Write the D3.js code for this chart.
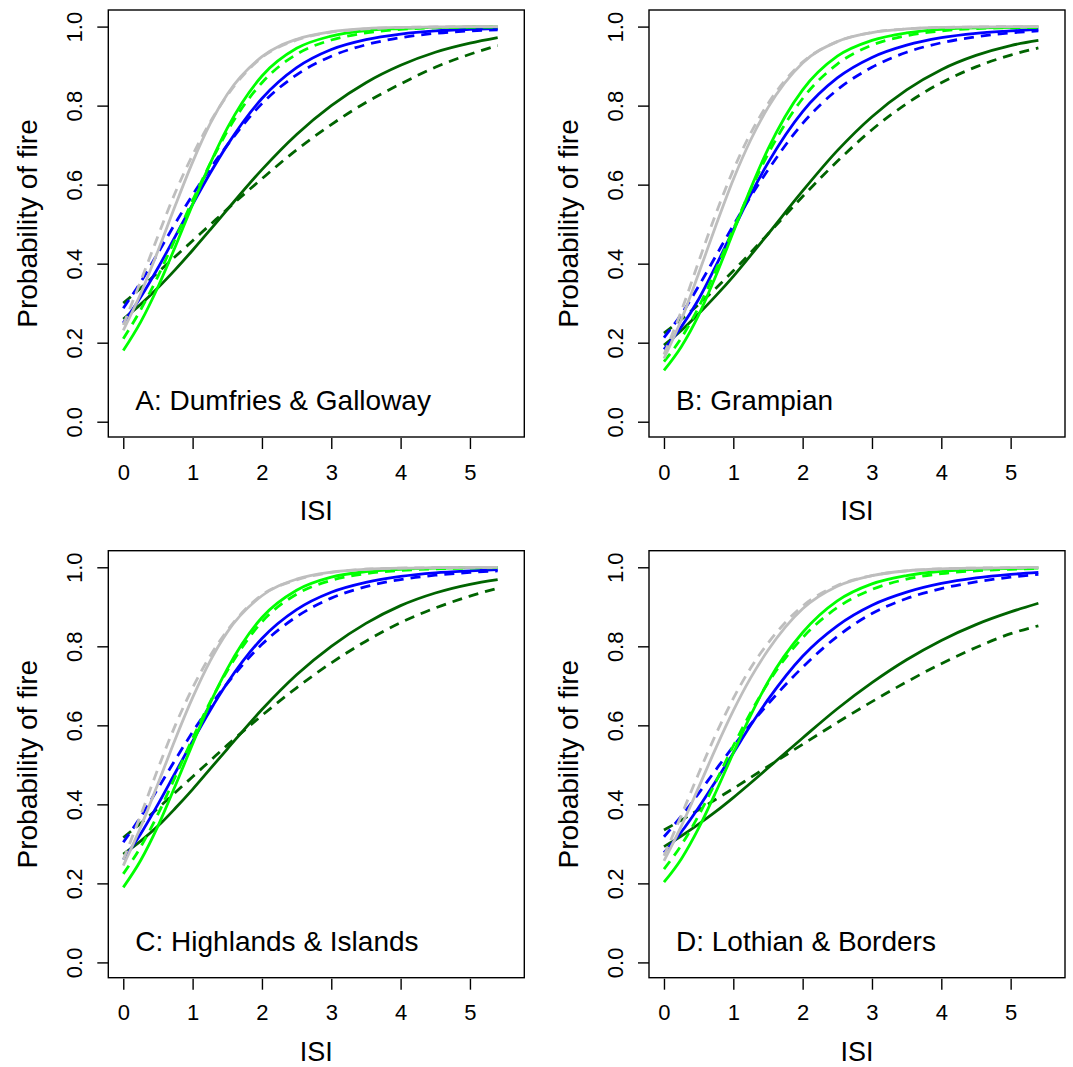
<!DOCTYPE html>
<html>
<head>
<meta charset="utf-8">
<script src="https://cdn.jsdelivr.net/npm/d3@7"></script>
<style>
  body { margin: 0; background: #fff; }
  svg text { font-family: 'Liberation Sans', Arial, sans-serif; fill: #000; }
</style>
</head>
<body>
<svg id="chart" width="1073" height="1067"></svg>
<script>
// ISI sample points along each fitted curve
const isi = [0, 0.25, 0.5, 0.75, 1, 1.25, 1.5, 2, 2.5, 3, 3.5, 4, 4.5, 5, 5.4];

const xTicks = [0, 1, 2, 3, 4, 5];
const yTicks = [0, 0.2, 0.4, 0.6, 0.8, 1.0];
const panelTitles = ['A: Dumfries & Galloway', 'B: Grampian', 'C: Highlands & Islands', 'D: Lothian & Borders'];

// A: Dumfries & Galloway
const darkA = [0.26, 0.297, 0.339, 0.385, 0.434, 0.485, 0.537, 0.638, 0.727, 0.8, 0.858, 0.902, 0.935, 0.958, 0.972];
const darkDashA = [0.30, 0.338, 0.378, 0.418, 0.458, 0.498, 0.538, 0.615, 0.688, 0.752, 0.808, 0.855, 0.897, 0.93, 0.952];
const blueA = [0.25, 0.315, 0.389, 0.469, 0.55, 0.628, 0.70, 0.818, 0.896, 0.942, 0.967, 0.981, 0.989, 0.993, 0.995];
const blueDashA = [0.287, 0.353, 0.427, 0.502, 0.574, 0.64, 0.70, 0.805, 0.878, 0.925, 0.954, 0.972, 0.983, 0.989, 0.992];
const greenA = [0.18, 0.252, 0.341, 0.443, 0.55, 0.652, 0.743, 0.875, 0.945, 0.976, 0.99, 0.995, 0.998, 0.999, 0.9995];
const greenDashA = [0.21, 0.283, 0.368, 0.463, 0.56, 0.652, 0.735, 0.858, 0.93, 0.966, 0.984, 0.993, 0.9967, 0.9985, 0.999];
const greyA = [0.231, 0.324, 0.432, 0.547, 0.657, 0.753, 0.829, 0.924, 0.968, 0.987, 0.995, 0.998, 0.999, 1.0, 1.0];
const greyDashA = [0.245, 0.355, 0.47, 0.58, 0.675, 0.757, 0.826, 0.922, 0.966, 0.986, 0.994, 0.998, 0.999, 1.0, 1.0];

// B: Grampian
const darkB = [0.194, 0.231, 0.273, 0.319, 0.368, 0.421, 0.475, 0.584, 0.686, 0.772, 0.84, 0.891, 0.927, 0.952, 0.965];
const darkDashB = [0.224, 0.259, 0.297, 0.338, 0.382, 0.428, 0.475, 0.57, 0.659, 0.739, 0.805, 0.858, 0.898, 0.928, 0.946];
const blueB = [0.183, 0.24, 0.31, 0.395, 0.485, 0.575, 0.655, 0.785, 0.87, 0.922, 0.953, 0.972, 0.983, 0.989, 0.993];
const blueDashB = [0.213, 0.272, 0.343, 0.42, 0.497, 0.57, 0.637, 0.755, 0.84, 0.897, 0.935, 0.959, 0.974, 0.984, 0.989];
const greenB = [0.13, 0.19, 0.27, 0.37, 0.48, 0.59, 0.69, 0.84, 0.925, 0.965, 0.984, 0.993, 0.997, 0.998, 0.999];
const greenDashB = [0.152, 0.212, 0.29, 0.385, 0.487, 0.587, 0.677, 0.818, 0.905, 0.953, 0.977, 0.989, 0.995, 0.997, 0.998];
const greyB = [0.16, 0.258, 0.375, 0.497, 0.613, 0.713, 0.795, 0.908, 0.962, 0.985, 0.994, 0.998, 0.999, 1.0, 1.0];
const greyDashB = [0.17, 0.28, 0.405, 0.527, 0.637, 0.73, 0.805, 0.91, 0.962, 0.985, 0.994, 0.998, 0.999, 1.0, 1.0];

// C: Highlands & Islands
const darkC = [0.274, 0.307, 0.345, 0.39, 0.438, 0.489, 0.54, 0.64, 0.728, 0.8, 0.858, 0.903, 0.935, 0.957, 0.969];
const darkDashC = [0.316, 0.352, 0.39, 0.43, 0.47, 0.51, 0.55, 0.625, 0.695, 0.758, 0.813, 0.86, 0.897, 0.927, 0.947];
const blueC = [0.26, 0.325, 0.40, 0.48, 0.56, 0.637, 0.707, 0.82, 0.893, 0.937, 0.962, 0.977, 0.986, 0.991, 0.994];
const blueDashC = [0.304, 0.368, 0.44, 0.513, 0.583, 0.648, 0.706, 0.805, 0.875, 0.922, 0.951, 0.969, 0.98, 0.987, 0.991];
const greenC = [0.19, 0.258, 0.345, 0.447, 0.553, 0.655, 0.743, 0.873, 0.942, 0.975, 0.989, 0.995, 0.998, 0.999, 0.9995];
const greenDashC = [0.224, 0.292, 0.375, 0.47, 0.567, 0.658, 0.738, 0.862, 0.932, 0.967, 0.984, 0.992, 0.996, 0.998, 0.999];
const greyC = [0.245, 0.342, 0.452, 0.565, 0.67, 0.762, 0.836, 0.928, 0.97, 0.988, 0.995, 0.998, 0.999, 1.0, 1.0];
const greyDashC = [0.26, 0.372, 0.49, 0.60, 0.695, 0.775, 0.84, 0.93, 0.968, 0.987, 0.995, 0.998, 0.999, 1.0, 1.0];

// D: Lothian & Borders
const darkD = [0.293, 0.32, 0.35, 0.382, 0.417, 0.454, 0.492, 0.568, 0.642, 0.708, 0.766, 0.815, 0.855, 0.887, 0.909];
const darkDashD = [0.335, 0.36, 0.386, 0.413, 0.44, 0.468, 0.496, 0.552, 0.607, 0.66, 0.71, 0.756, 0.797, 0.832, 0.852];
const blueD = [0.278, 0.33, 0.392, 0.46, 0.53, 0.60, 0.665, 0.775, 0.852, 0.904, 0.937, 0.959, 0.973, 0.982, 0.987];
const blueDashD = [0.318, 0.37, 0.428, 0.488, 0.547, 0.603, 0.654, 0.747, 0.825, 0.883, 0.921, 0.946, 0.963, 0.975, 0.982];
const greenD = [0.203, 0.262, 0.34, 0.432, 0.53, 0.625, 0.71, 0.835, 0.915, 0.958, 0.979, 0.99, 0.995, 0.997, 0.998];
const greenDashD = [0.236, 0.297, 0.372, 0.458, 0.548, 0.632, 0.707, 0.822, 0.898, 0.944, 0.97, 0.984, 0.991, 0.995, 0.997];
const greyD = [0.257, 0.345, 0.443, 0.543, 0.637, 0.72, 0.79, 0.895, 0.952, 0.979, 0.991, 0.996, 0.998, 0.999, 1.0];
const greyDashD = [0.27, 0.372, 0.478, 0.578, 0.668, 0.745, 0.808, 0.902, 0.954, 0.979, 0.991, 0.996, 0.998, 0.999, 1.0];

const colors = { dark: '#006400', blue: '#0000ff', green: '#00ff00', grey: '#bebebe' };

const panels = [
  [darkA, darkDashA, blueA, blueDashA, greenA, greenDashA, greyA, greyDashA],
  [darkB, darkDashB, blueB, blueDashB, greenB, greenDashB, greyB, greyDashB],
  [darkC, darkDashC, blueC, blueDashC, greenC, greenDashC, greyC, greyDashC],
  [darkD, darkDashD, blueD, blueDashD, greenD, greenDashD, greyD, greyDashD],
];
const seriesStyle = [
  ['dark', false], ['dark', true], ['blue', false], ['blue', true],
  ['green', false], ['green', true], ['grey', false], ['grey', true],
];

const plotW = 416;
const plotH = 427;
const step = 540.7;

const svg = d3.select('#chart');

panels.forEach((series, p) => {
  const left = 108.3 + (p % 2) * step;
  const top = 10 + Math.floor(p / 2) * step;

  const g = svg.append('g').attr('transform', `translate(${left},${top})`);

  const x = d3.scaleLinear().domain([-0.216, 5.784]).range([0, plotW]);
  const y = d3.scaleLinear().domain([-0.0387, 1.042]).range([plotH, 0]);

  const line = d3.line()
    .x((d, i) => x(isi[i]))
    .y(d => y(d))
    .curve(d3.curveMonotoneX);

  g.selectAll('path.curve')
    .data(series)
    .enter().append('path')
    .attr('class', 'curve')
    .attr('d', d => line(d))
    .attr('fill', 'none')
    .attr('stroke', (d, i) => colors[seriesStyle[i][0]])
    .attr('stroke-width', 2.8)
    .attr('stroke-dasharray', (d, i) => seriesStyle[i][1] ? '10,7' : null);

  // box
  g.append('rect')
    .attr('width', plotW)
    .attr('height', plotH)
    .attr('fill', 'none')
    .attr('stroke', '#000')
    .attr('stroke-width', 1.4);

  // x axis
  const axisX = d3.axisBottom(x)
    .tickValues(xTicks)
    .tickSize(11)
    .tickPadding(15)
    .tickFormat(d3.format('d'));
  const gx = g.append('g')
    .attr('transform', `translate(0,${plotH + 1})`)
    .call(axisX);
  gx.select('.domain').remove();
  gx.selectAll('line').attr('stroke', '#000').attr('stroke-width', 1.4);
  gx.selectAll('text').style('font-size', '22px');

  // y axis
  const axisY = d3.axisLeft(y)
    .tickValues(yTicks)
    .tickSize(11)
    .tickFormat(d3.format('.1f'));
  const gy = g.append('g').call(axisY);
  gy.select('.domain').remove();
  gy.selectAll('line').attr('stroke', '#000').attr('stroke-width', 1.4);
  gy.selectAll('text')
    .style('font-size', '22px')
    .attr('x', null)
    .attr('dy', null)
    .attr('text-anchor', 'middle')
    .attr('transform', 'translate(-26,0) rotate(-90)');

  // axis labels
  g.append('text')
    .attr('x', plotW / 2)
    .attr('y', plotH + 83)
    .attr('text-anchor', 'middle')
    .style('font-size', '27px')
    .text('ISI');

  g.append('text')
    .attr('transform', `translate(-71,${plotH / 2}) rotate(-90)`)
    .attr('text-anchor', 'middle')
    .style('font-size', '28px')
    .text('Probability of fire');

  g.append('text')
    .attr('x', 27)
    .attr('y', plotH - 27)
    .style('font-size', '28px')
    .text(panelTitles[p]);
});
</script>
</body>
</html>
